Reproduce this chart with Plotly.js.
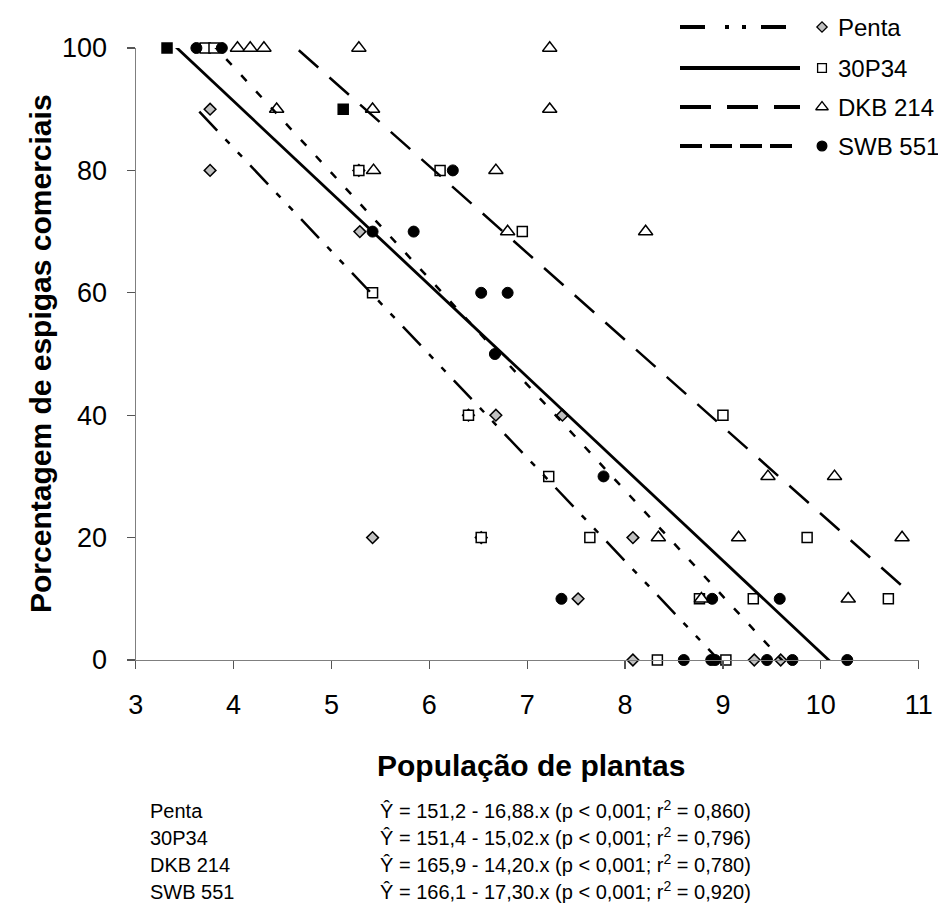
<!DOCTYPE html>
<html>
<head>
<meta charset="utf-8">
<script src="https://cdn.plot.ly/plotly-3.0.1.min.js"></script>
<style>html,body{margin:0;padding:0;background:#fff;}#chart{width:938px;height:907px;}</style>
</head>
<body>
<div id="chart"></div>
<script>
// ---------------- data ----------------
const seriesNames = ['Penta', '30P34', 'DKB 214', 'SWB 551'];

const pentaX = [3.76, 3.76, 5.28, 5.29, 5.42, 6.40, 6.68, 7.36, 6.53, 8.08, 7.52, 8.08, 9.32, 9.59];
const pentaY = [90, 80, 80, 70, 20, 40, 40, 40, 20, 20, 10, 0, 0, 0];

const p30X = [3.71, 3.80, 5.28, 6.11, 6.95, 5.42, 6.40, 9.00, 7.22, 6.53, 7.64, 9.86, 8.76, 9.31, 10.69, 8.33, 9.03];
const p30Y = [100, 100, 80, 80, 70, 60, 40, 40, 30, 20, 20, 20, 10, 10, 10, 0, 0];

const blackSqX = [3.32, 5.12];
const blackSqY = [100, 90];

const dkbX = [4.04, 4.17, 4.31, 5.28, 7.23, 4.44, 5.42, 7.23, 5.43, 6.68, 6.80, 8.21, 9.46, 10.14, 8.34, 9.16, 10.83, 8.78, 10.28];
const dkbY = [100, 100, 100, 100, 100, 90, 90, 90, 80, 80, 70, 70, 30, 30, 20, 20, 20, 10, 10];

const swbX = [3.62, 3.88, 6.24, 5.42, 5.84, 6.53, 6.80, 6.67, 7.78, 7.35, 8.89, 9.58, 8.60, 8.88, 8.92, 9.45, 9.71, 10.27];
const swbY = [100, 100, 80, 70, 70, 60, 60, 50, 30, 10, 10, 10, 0, 0, 0, 0, 0, 0];

// regression equations: Y = a - b.x
const intercepts = [151.2, 151.4, 165.9, 166.1];
const slopes = [16.88, 15.02, 14.20, 17.30];
const pLabel = '< 0,001';
const r2Values = [0.860, 0.796, 0.780, 0.920];
const trendStart = [3.65, 3.32, 4.04, 3.62];
const trendEnd = [9.59, 10.69, 10.83, 10.27];

const xTicks = [3, 4, 5, 6, 7, 8, 9, 10, 11];
const yTicks = [0, 20, 40, 60, 80, 100];

// ---------------- styles ----------------
const W = 938, H = 907;
const plotL = 135.7, plotR = 918.7, plotT = 48, plotB = 660;
const FONT = 'Liberation Sans, Arial, sans-serif';

const markerStyles = [
  {symbol: 'diamond', size: 9, color: '#c0c0c0', line: {color: '#000', width: 1.5}},
  {symbol: 'square', size: 10, color: '#fff', line: {color: '#000', width: 1.5}},
  {symbol: 'triangle-up', size: 12.5, color: '#fff', line: {color: '#000', width: 1.5}},
  {symbol: 'circle', size: 11, color: '#000', line: {color: '#000', width: 1}}
];
const lineDash = ['26px,12px,6px,12px,6px,12px', 'solid', '26px,15px', '8px,14px'];
const lineWidth = [2.5, 2.8, 2.5, 2.5];
const legendDash = ['25px,20px,4px,13px,4px,15px', 'solid', '31px,16px', '22px,8px'];

const seriesX = [pentaX, p30X, dkbX, swbX];
const seriesY = [pentaY, p30Y, dkbY, swbY];

const traces = [];
// markers
for (let i = 0; i < 4; i++) {
  traces.push({
    type: 'scatter', mode: 'markers', x: seriesX[i], y: seriesY[i],
    name: seriesNames[i], showlegend: false, cliponaxis: false,
    marker: markerStyles[i], xaxis: 'x', yaxis: 'y', hoverinfo: 'x+y'
  });
}
traces.push({
  type: 'scatter', mode: 'markers', x: blackSqX, y: blackSqY, showlegend: false, cliponaxis: false,
  marker: {symbol: 'square', size: 10, color: '#000', line: {color: '#000', width: 1.5}},
  xaxis: 'x', yaxis: 'y'
});
// trend lines
for (let i = 0; i < 4; i++) {
  const xs = [trendStart[i], trendEnd[i]];
  const ys = xs.map(x => intercepts[i] - slopes[i] * x);
  traces.push({
    type: 'scatter', mode: 'lines', x: xs, y: ys, showlegend: false, cliponaxis: true,
    line: {color: '#000', width: lineWidth[i], dash: lineDash[i]}, xaxis: 'x', yaxis: 'y', hoverinfo: 'skip'
  });
}
// custom legend (pixel coordinate overlay axes)
const legendRows = [27, 68, 107, 146];
const legendLineX = [680, 800];
const legendMarkX = 822;
const legendTextX = 836;
const annotations = [];
for (let i = 0; i < 4; i++) {
  traces.push({
    type: 'scatter', mode: 'lines', x: legendLineX, y: [legendRows[i], legendRows[i]],
    xaxis: 'x2', yaxis: 'y2', showlegend: false, hoverinfo: 'skip', cliponaxis: false,
    line: {color: '#000', width: 4, dash: legendDash[i]}
  });
  const ms = Object.assign({}, markerStyles[i]);
  ms.size = markerStyles[i].size * 0.88;
  ms.line = {color: '#000', width: 1.3};
  traces.push({
    type: 'scatter', mode: 'markers', x: [legendMarkX], y: [legendRows[i]],
    xaxis: 'x2', yaxis: 'y2', showlegend: false, hoverinfo: 'skip', cliponaxis: false, marker: ms
  });
  annotations.push({
    xref: 'x2', yref: 'y2', x: legendTextX, y: legendRows[i], xanchor: 'left', yanchor: 'middle',
    text: seriesNames[i], showarrow: false, font: {family: FONT, size: 24, color: '#000'}
  });
}

// axis titles
annotations.push({
  xref: 'paper', yref: 'paper', x: 531 / W, y: 1 - 765 / H, xanchor: 'center', yanchor: 'middle',
  text: '<b>População de plantas</b>', showarrow: false, font: {family: FONT, size: 30, color: '#000'}
});
annotations.push({
  xref: 'paper', yref: 'paper', x: 40 / W, y: 1 - 354 / H, xanchor: 'center', yanchor: 'middle',
  text: '<b>Porcentagem de espigas comerciais</b>', textangle: -90, showarrow: false,
  font: {family: FONT, size: 30, color: '#000'}
});

// equations
const fmt = (v, d) => v.toFixed(d).replace('.', ',');
const eqRowBottoms = [823, 850, 877, 904];
for (let i = 0; i < 4; i++) {
  annotations.push({
    xref: 'paper', yref: 'paper', x: 149 / W, y: 1 - eqRowBottoms[i] / H, xanchor: 'left', yanchor: 'bottom',
    text: seriesNames[i], showarrow: false, font: {family: FONT, size: 20, color: '#000'}, borderpad: 0
  });
  annotations.push({
    xref: 'paper', yref: 'paper', x: 379 / W, y: 1 - eqRowBottoms[i] / H, xanchor: 'left', yanchor: 'bottom',
    text: 'Ŷ = ' + fmt(intercepts[i], 1) + ' - ' + fmt(slopes[i], 2) + '.x (p ' + pLabel + '; r<sup>2</sup> = ' + fmt(r2Values[i], 3) + ')',
    showarrow: false, font: {family: FONT, size: 20, color: '#000'}, borderpad: 0
  });
}

const axisCommon = {
  showgrid: false, zeroline: false, showline: true, linecolor: '#7f7f7f', linewidth: 1.2,
  ticks: 'outside', ticklen: 8, tickcolor: '#555', tickwidth: 1.2,
  tickfont: {family: FONT, size: 27, color: '#000'}, fixedrange: true
};

const layout = {
  width: W, height: H, margin: {l: 0, r: 0, t: 0, b: 0},
  paper_bgcolor: '#fff', plot_bgcolor: 'rgba(0,0,0,0)', showlegend: false,
  xaxis: Object.assign({}, axisCommon, {
    domain: [plotL / W, plotR / W], range: [3, 11], tickvals: xTicks, ticktext: xTicks.map(String),
    anchor: 'y', ticklabelstandoff: 12
  }),
  yaxis: Object.assign({}, axisCommon, {
    domain: [1 - plotB / H, 1 - plotT / H], range: [0, 100], tickvals: yTicks, ticktext: yTicks.map(String),
    anchor: 'x', ticklabelstandoff: 14
  }),
  xaxis2: {domain: [0, 1], range: [0, W], visible: false, anchor: 'y2', fixedrange: true},
  yaxis2: {domain: [0, 1], range: [H, 0], visible: false, anchor: 'x2', fixedrange: true},
  annotations: annotations
};

Plotly.newPlot('chart', traces, layout, {displayModeBar: false, staticPlot: true});
</script>
</body>
</html>
